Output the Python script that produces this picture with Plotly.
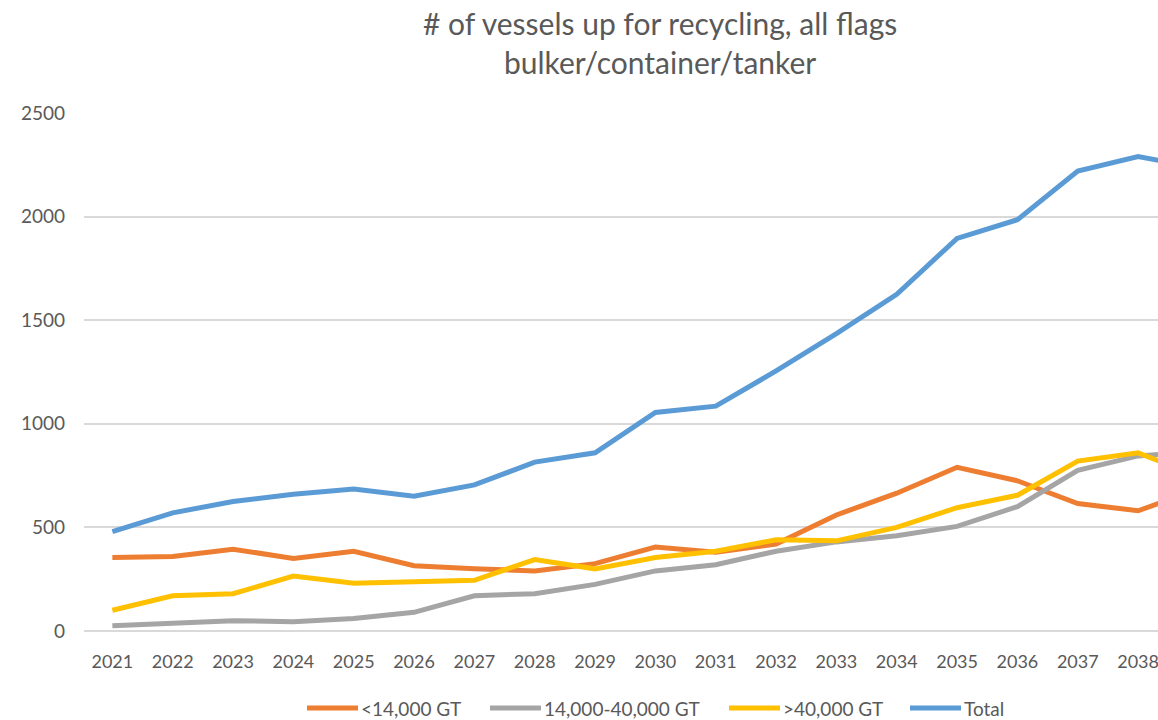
import plotly.graph_objects as go

years = list(range(2021, 2040))
small = [355, 360, 395, 350, 385, 315, 300, 290, 325, 405, 380, 420, 560, 665, 790, 725, 615, 580, 685]
medium = [25, 35, 50, 45, 60, 90, 170, 180, 225, 290, 320, 385, 430, 460, 505, 600, 775, 845, 865]
large = [100, 170, 180, 265, 230, 240, 245, 345, 300, 355, 385, 440, 435, 500, 595, 655, 820, 860, 745]
total = [480, 570, 625, 660, 685, 650, 705, 815, 860, 1055, 1085, 1255, 1435, 1625, 1895, 1985, 2220, 2290, 2235]

names = ["<14,000 GT", "14,000-40,000 GT", ">40,000 GT", "Total"]
colors = ["#ED7D31", "#A5A5A5", "#FFC000", "#5B9BD5"]
series = [small, medium, large, total]

FONT = "Lato"
TEXT = "#595959"

# plot area in pixels
L, R, T, B = 84, 1158, 113, 631
W, H = R - L, B - T


def px_x(px):
    return (px - L) / W


def px_y(py):
    return (B - py) / H


fig = go.Figure()
for name, col, vals in zip(names, colors, series):
    fig.add_trace(go.Scatter(
        x=years, y=vals, name=name, mode="lines",
        line=dict(color=col, width=5), showlegend=False,
    ))

annotations = [
    dict(text="# of vessels up for recycling, all flags", x=px_x(660), y=px_y(23)),
    dict(text="bulker/container/tanker", x=px_x(660), y=px_y(62)),
]
for a in annotations:
    a.update(xref="paper", yref="paper", showarrow=False, xanchor="center",
             yanchor="middle", font=dict(family=FONT, size=30, color=TEXT))

# legend drawn below the axis: a short line swatch followed by the series name
legend_starts = [307, 490, 729, 910]
shapes = []
LEG_Y = 708
for name, col, x0 in zip(names, colors, legend_starts):
    shapes.append(dict(type="line", xref="paper", yref="paper",
                       x0=px_x(x0), x1=px_x(x0 + 51), y0=px_y(LEG_Y), y1=px_y(LEG_Y),
                       line=dict(color=col, width=5)))
    annotations.append(dict(text=name, xref="paper", yref="paper",
                            x=px_x(x0 + 52), y=px_y(LEG_Y), showarrow=False,
                            xanchor="left", yanchor="middle",
                            font=dict(family=FONT, size=19, color=TEXT)))

fig.update_layout(
    width=1158, height=720,
    margin=dict(l=L, r=1158 - R, t=T, b=720 - B),
    paper_bgcolor="white", plot_bgcolor="white",
    font=dict(family=FONT, color=TEXT, size=18),
    showlegend=False,
    annotations=annotations,
    shapes=shapes,
)

fig.update_xaxes(
    range=[2020.53, 2038.33], tickvals=years[:-1], ticktext=[str(y) for y in years[:-1]],
    showgrid=False, zeroline=False, showline=False, ticks="",
    tickfont=dict(family=FONT, size=18, color=TEXT), ticklabelstandoff=18,
    ticklabeloverflow="allow",
)
fig.update_yaxes(
    range=[0, 2500], dtick=500, showgrid=True, gridcolor="#D9D9D9", gridwidth=1.5,
    zeroline=True, zerolinecolor="#D9D9D9", zerolinewidth=1.5, showline=False, ticks="",
    tickfont=dict(family=FONT, size=19, color=TEXT), ticklabelstandoff=18,
)

fig.write_html("out.html")
